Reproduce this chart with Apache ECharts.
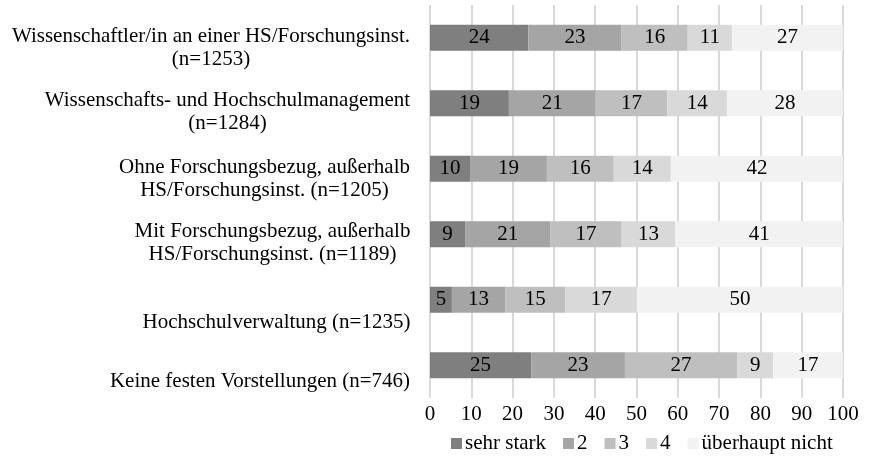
<!DOCTYPE html>
<html>
<head>
<meta charset="utf-8">
<script src="https://cdn.jsdelivr.net/npm/echarts@6/dist/echarts.min.js"></script>
<style>html,body{margin:0;padding:0;background:#fff}#c{width:869px;height:464px}</style>
</head>
<body>
<div id="c"></div>
<script>
const categories = [
  'Wissenschaftler/in an einer HS/Forschungsinst.\n(n=1253)',
  'Wissenschafts- und Hochschulmanagement\n(n=1284)',
  'Ohne Forschungsbezug, außerhalb\nHS/Forschungsinst. (n=1205)',
  'Mit Forschungsbezug, außerhalb\nHS/Forschungsinst. (n=1189)',
  'Hochschulverwaltung (n=1235)',
  'Keine festen Vorstellungen (n=746)'
];
const seriesNames = ['sehr stark', '2', '3', '4', 'überhaupt nicht'];
const sehrStark = [23.8, 19.1, 9.7, 8.5, 5.3, 24.5];
const stufe2 = [22.6, 21.0, 18.6, 20.7, 12.9, 22.7];
const stufe3 = [16.0, 17.4, 16.2, 17.2, 14.6, 27.2];
const stufe4 = [10.7, 14.4, 13.8, 13.0, 17.3, 8.7];
const ueberhauptNicht = [26.9, 28.1, 41.7, 40.6, 49.9, 16.9];
const xTicks = [0, 100, 10];

const seriesValues = [sehrStark, stufe2, stufe3, stufe4, ueberhauptNicht];
const colors = ['#7f7f7f', '#a5a5a5', '#bfbfbf', '#d9d9d9', '#f2f2f2'];
const FONT = '"Liberation Serif", "Times New Roman", serif';
const catFontSize = 21;
const catLineHeight = 23;
const labelShift = [10, 9, 10, 9, 23, 16];

const cv = document.createElement('canvas').getContext('2d');
cv.font = catFontSize + 'px ' + FONT;
function blockWidth(s) {
  return Math.ceil(Math.max.apply(null, s.split('\n').map(l => cv.measureText(l).width))) + 1;
}

const rich = {};
categories.forEach((c, i) => {
  rich['w' + i] = {
    width: blockWidth(c), align: 'center',
    fontFamily: FONT, fontSize: catFontSize, color: '#000', lineHeight: catLineHeight
  };
  rich['s' + i] = { fontSize: 1, lineHeight: labelShift[i] * 2, color: 'rgba(0,0,0,0)' };
});

const chart = echarts.init(document.getElementById('c'), null, { renderer: 'canvas' });
chart.setOption({
  animation: false,
  backgroundColor: '#fff',
  color: colors,
  grid: { left: 430, right: 26, top: 5, bottom: 66, outerBoundsMode: 'none', containLabel: false },
  legend: {
    data: seriesNames,
    top: 428,
    left: 446,
    itemWidth: 11,
    itemHeight: 11,
    itemGap: 17,
    icon: 'rect',
    textStyle: { fontFamily: FONT, fontSize: 21, color: '#000', padding: [0, 0, 0, -2] }
  },
  xAxis: {
    type: 'value',
    min: xTicks[0], max: xTicks[1], interval: xTicks[2],
    axisLine: { show: false },
    axisTick: { show: false },
    splitLine: { show: true, lineStyle: { color: '#d9d9d9', width: 2 } },
    axisLabel: { fontFamily: FONT, fontSize: 21, color: '#000', margin: 6 }
  },
  yAxis: {
    type: 'category',
    inverse: true,
    data: categories,
    axisLine: { show: false },
    axisTick: { show: false },
    splitLine: { show: false },
    axisLabel: {
      margin: 19,
      formatter: (v, i) => '{s' + i + '|.}\n' + v.split('\n').map(l => '{w' + i + '|' + l + '}').join('\n'),
      rich: rich
    }
  },
  series: seriesValues.map((vals, i) => ({
    name: seriesNames[i],
    type: 'bar',
    stack: 'total',
    barWidth: 26,
    data: vals,
    label: {
      show: true,
      position: 'inside',
      fontFamily: FONT, fontSize: 21, color: '#000',
      formatter: p => Math.round(p.value)
    }
  }))
});
</script>
</body>
</html>
